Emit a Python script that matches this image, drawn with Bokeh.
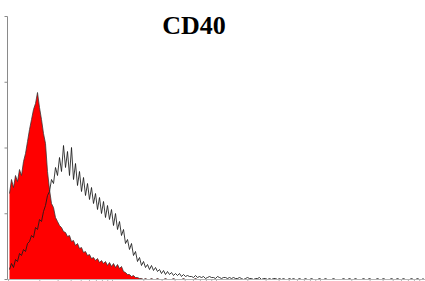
import math
from bokeh.plotting import figure
from bokeh.models import Range1d, Label
from bokeh.embed import file_html
from bokeh.resources import INLINE

title_text = "CD40"

# control (filled red) histogram, counts per channel bin
control_counts = [
    86, 100, 92, 104, 98, 110, 104, 118, 126, 138,
    150, 160, 170, 176, 187, 172, 160, 146, 136, 108,
    90, 76, 72, 62, 58, 54, 52, 48, 47, 43,
    44, 38, 39, 34, 36, 31, 32, 27, 28, 24,
    25, 21, 22, 19, 21, 17, 19, 16, 18, 14,
    17, 13, 16, 12, 15, 11, 13, 8, 7, 5,
    5, 3, 4, 2, 2, 1, 1, 0, 1, 0,
    0, 1, 0, 0, 1, 0, 0, 0, 1, 0,
    0, 0, 1, 0, 0, 0, 0, 1, 0, 0,
    0, 0, 0, 1, 0, 0, 0, 0, 0, 0,
]

# CD40 stained (black line) histogram
cd40_counts = [
    10, 16, 12, 20, 18, 26, 24, 30, 28, 36,
    38, 44, 42, 52, 50, 60, 58, 68, 74, 84,
    88, 100, 96, 112, 104, 122, 108, 134, 112, 128,
    104, 132, 100, 116, 94, 108, 88, 102, 84, 96,
    80, 92, 76, 86, 70, 82, 66, 78, 62, 74,
    60, 70, 54, 66, 50, 58, 44, 50, 36, 40,
    30, 36, 24, 28, 18, 22, 14, 18, 12, 15,
    10, 14, 9, 12, 8, 10, 6, 9, 5, 8,
    5, 7, 4, 6, 4, 6, 3, 5, 3, 4,
    3,
    3, 2, 4, 2, 3, 2, 3, 1, 2, 3, 2, 2, 1, 3, 2, 1, 2, 2, 1, 2,
    1, 2, 1, 1, 2, 1, 0, 1, 2, 1, 1, 0, 1, 1, 2, 0, 1, 1, 0, 1,
    0, 1, 1, 0, 1, 0, 1, 0, 0, 1, 0, 1, 0, 0, 1, 0, 0, 1, 0, 0,
    1, 0, 0, 0, 1, 0, 0, 1, 0, 0, 0, 1, 0, 0, 0, 0, 1, 0, 0, 1,
    0, 0, 1, 0, 0, 0, 1, 0, 0, 1, 0, 0, 0, 1, 0, 0, 1, 0, 0, 0,
    1, 0, 0, 1, 0, 0, 1, 0, 0, 0, 1, 0, 0, 1, 0, 0, 1,
]

y_max = 263
n_bins = len(cd40_counts)
ctrl_centers = [b + 0.5 for b in range(len(control_counts))]
cd40_centers = [b + 0.5 for b in range(n_bins)]

p = figure(width=425, height=281, output_backend="svg", toolbar_location=None,
           x_range=Range1d(-4, 208.5), y_range=Range1d(-2, 279),
           min_border_left=0, min_border_right=0, min_border_top=0,
           min_border_bottom=0)
p.outline_line_color = None
p.grid.visible = False
p.axis.visible = False
p.background_fill_color = "white"
p.border_fill_color = "white"

p.varea(x=ctrl_centers, y1=0, y2=control_counts, fill_color="#ff0000")
p.line(x=ctrl_centers, y=control_counts,
       line_color="#333333", line_width=1, line_alpha=0.75)
p.line(x=cd40_centers, y=cd40_counts,
       line_color="#1a1a1a", line_width=1, line_alpha=0.85)

# hand-built axes (no tick labels in the reference)
axis_x = -0.5
yticks = [0, y_max * 0.25, y_max * 0.5, y_max * 0.75, y_max]
p.segment(x0=[axis_x], y0=[0], x1=[axis_x], y1=[y_max],
          line_color="#8a8a8a", line_width=1)
p.segment(x0=[axis_x - 1.5] * len(yticks), y0=yticks,
          x1=[axis_x] * len(yticks), y1=yticks,
          line_color="#8a8a8a", line_width=1)

decade = 52.0
xticks = []
for d in range(4):
    for k in range(1, 10):
        t = decade * (d + math.log10(k))
        if 0 <= t <= 208.5:
            xticks.append(t)
p.segment(x0=[axis_x], y0=[0], x1=[208.5], y1=[0],
          line_color="#b4b4b4", line_width=1)
p.segment(x0=xticks, y0=[0] * len(xticks), x1=xticks, y1=[-2] * len(xticks),
          line_color="#b4b4b4", line_width=1)

p.add_layout(Label(x=92.75, y=254, text=title_text, text_align="center",
                   text_baseline="alphabetic", text_font="Liberation Serif",
                   text_font_style="bold", text_font_size="26px",
                   text_color="black"))

open("out.html", "w").write(file_html(p, INLINE))
